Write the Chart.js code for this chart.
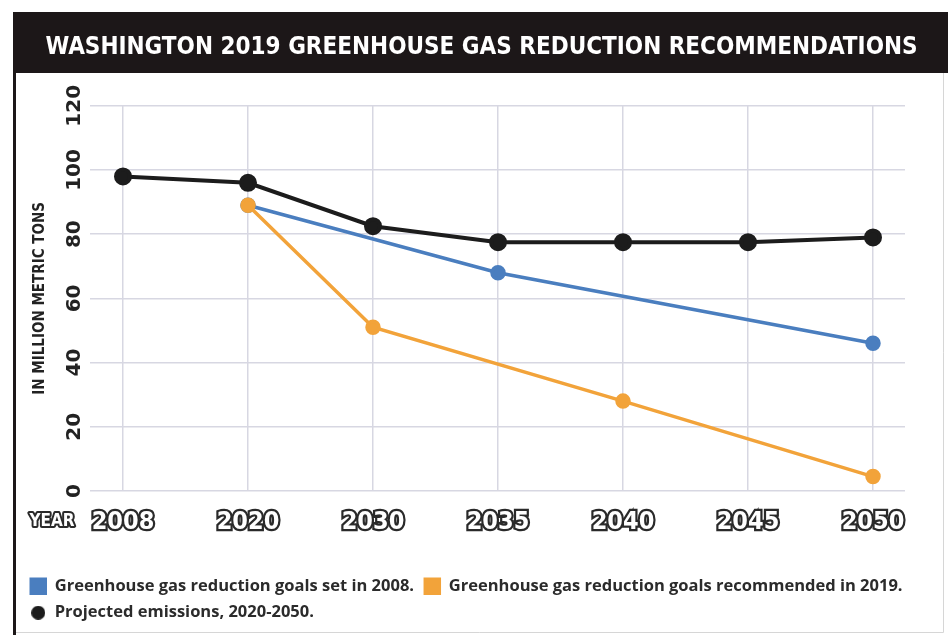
<!DOCTYPE html>
<html>
<head>
<meta charset="utf-8">
<script src="https://cdn.jsdelivr.net/npm/chart.js@4.4.1/dist/chart.umd.min.js"></script>
<style>
  html, body { margin: 0; padding: 0; background: #fff; }
  #wrap { width: 948px; height: 635px; position: relative; }
</style>
</head>
<body>
<div id="wrap"><canvas id="ghgChart"></canvas></div>
<script>
// Data
const years = ['2008', '2020', '2030', '2035', '2040', '2045', '2050'];
const goals2008 = [null, 89, null, 68, null, null, 46];
const goals2019 = [null, 89, 51, null, 28, null, 4.5];
const projected = [98, 96, 82.5, 77.5, 77.5, 77.5, 79];
const yTicks = [0, 20, 40, 60, 80, 100, 120];

const toPoints = arr => arr.map((v, i) => ({ x: i, y: v }));

// small round marker for the legend entry of the black series
const dot = document.createElement('canvas');
dot.width = 14; dot.height = 14;
const dctx = dot.getContext('2d');
dctx.fillStyle = '#1c1c1c';
dctx.beginPath();
dctx.arc(7, 7, 7, 0, Math.PI * 2);
dctx.fill();

// Black banner behind the title, frame lines, and the "YEAR" tag
const decorPlugin = {
    id: 'decor',
    beforeDraw(chart) {
        const ctx = chart.ctx;
        const tb = chart.titleBlock;
        ctx.save();
        ctx.fillStyle = '#fff';
        ctx.fillRect(0, 0, chart.width, chart.height);
        ctx.fillStyle = '#1c1718';
        ctx.fillRect(13, tb.top, chart.width - 13, 61);
        ctx.fillRect(13, tb.top, 3, chart.height - tb.top);
        ctx.strokeStyle = '#d6d6d6';
        ctx.lineWidth = 1;
        ctx.beginPath();
        ctx.moveTo(16, chart.height - 2.5);
        ctx.lineTo(943.5, chart.height - 2.5);
        ctx.lineTo(943.5, tb.top + 61);
        ctx.stroke();
        ctx.restore();
    },
    afterDraw(chart) {
        const ctx = chart.ctx;
        const xs = chart.scales.x;
        ctx.save();
        ctx.font = 'bold 17px "DejaVu Sans Condensed", "DejaVu Sans", sans-serif';
        ctx.textAlign = 'center';
        ctx.textBaseline = 'middle';
        ctx.lineJoin = 'round';
        ctx.lineWidth = 4;
        ctx.strokeStyle = '#2a2a2a';
        ctx.fillStyle = '#fff';
        const tx = xs.left - 38, ty = xs.top + 31;
        ctx.strokeText('YEAR', tx, ty);
        ctx.fillText('YEAR', tx, ty);
        ctx.restore();
    }
};

new Chart(document.getElementById('ghgChart'), {
    type: 'line',
    data: {
        datasets: [
            {
                label: 'Greenhouse gas reduction goals set in 2008.',
                data: toPoints(goals2008),
                borderColor: '#4a7ebf',
                backgroundColor: '#4a7ebf',
                borderWidth: 3.5,
                pointRadius: 6,
                spanGaps: true,
                order: 1
            },
            {
                label: 'Greenhouse gas reduction goals recommended in 2019.',
                data: toPoints(goals2019),
                borderColor: '#f2a33a',
                backgroundColor: '#f2a33a',
                borderWidth: 3.5,
                pointRadius: 6,
                spanGaps: true,
                order: 0
            },
            {
                label: 'Projected emissions, 2020-2050.',
                data: toPoints(projected),
                borderColor: '#1c1c1c',
                backgroundColor: '#1c1c1c',
                borderWidth: 4,
                pointRadius: 7,
                order: 2
            }
        ]
    },
    options: {
        responsive: true,
        maintainAspectRatio: false,
        animation: false,
        elements: {
            line: { tension: 0 },
            point: { pointStyle: 'circle', borderWidth: 0, hoverRadius: 7 }
        },
        layout: {
            padding: { left: 20, right: 5, top: 12, bottom: 4 }
        },
        scales: {
            x: {
                type: 'linear',
                min: -0.264,
                max: 6.256,
                afterBuildTicks: s => { s.ticks = years.map((y, i) => ({ value: i })); },
                afterFit: s => { s.height += 15; },
                grid: { color: '#d7d7e2', lineWidth: 1.5, drawTicks: false },
                border: { display: false },
                ticks: {
                    padding: 16,
                    autoSkip: false,
                    maxRotation: 0,
                    color: '#fff',
                    textStrokeColor: '#2a2a2a',
                    textStrokeWidth: 4.5,
                    font: { family: '"DejaVu Sans Condensed", "DejaVu Sans", sans-serif', weight: 'bold', size: 25 },
                    callback: v => years[v]
                }
            },
            y: {
                min: 0,
                max: 120,
                afterBuildTicks: s => { s.ticks = yTicks.map(v => ({ value: v })); },
                afterFit: s => { s.width = 70; },
                grid: { color: '#d7d7e2', lineWidth: 1.5, drawTicks: false },
                border: { display: false },
                title: {
                    display: true,
                    text: 'IN MILLION METRIC TONS',
                    color: '#222',
                    padding: { top: 11, bottom: 0 },
                    font: { family: '"DejaVu Sans Condensed", "DejaVu Sans", sans-serif', weight: 'bold', size: 15 }
                },
                ticks: {
                    padding: -6,
                    minRotation: 90,
                    maxRotation: 90,
                    crossAlign: 'center',
                    color: '#222',
                    font: { family: '"DejaVu Sans", sans-serif', weight: 'bold', size: 20 }
                }
            },
            // empty right-hand strip so the plot ends where the original does
            yRight: {
                position: 'right',
                min: 0,
                max: 120,
                afterFit: s => { s.width = 38; },
                grid: { display: false },
                border: { display: false },
                ticks: { display: false }
            }
        },
        plugins: {
            title: {
                display: true,
                text: 'WASHINGTON 2019 GREENHOUSE GAS REDUCTION RECOMMENDATIONS',
                color: '#fff',
                padding: { top: 21, bottom: 44 },
                font: { family: '"DejaVu Sans Condensed", "DejaVu Sans", sans-serif', weight: 'bold', size: 24 }
            },
            legend: {
                position: 'bottom',
                align: 'start',
                labels: {
                    usePointStyle: true,
                    boxHeight: 14,
                    padding: 10,
                    color: '#2b2b2b',
                    font: { family: '"Open Sans", sans-serif', weight: 'bold', size: 16.5 },
                    sort: (a, b) => a.datasetIndex - b.datasetIndex,
                    generateLabels(chart) {
                        const items = Chart.defaults.plugins.legend.labels.generateLabels(chart);
                        items.forEach(it => { it.pointStyle = it.datasetIndex === 2 ? dot : 'rect'; });
                        return items;
                    }
                }
            },
            tooltip: { enabled: false }
        }
    },
    plugins: [decorPlugin]
});
</script>
</body>
</html>
